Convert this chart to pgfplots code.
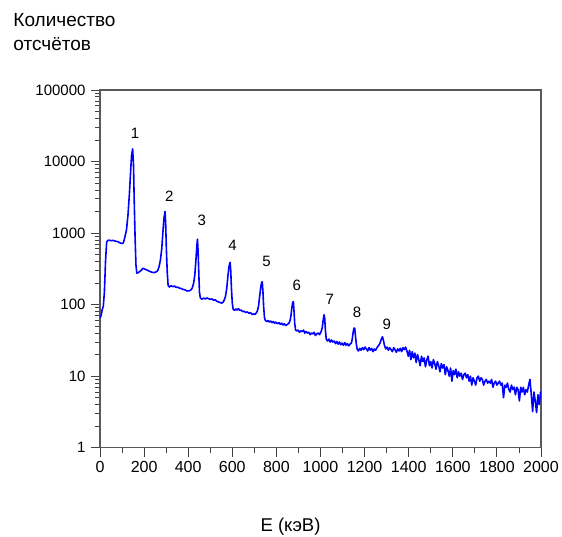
\documentclass[border=0pt]{standalone}
\usepackage{fontspec}
\setmainfont{Liberation Sans}
\usepackage{pgfplots}
\pgfplotsset{compat=1.18}
\usepackage{pgfplotstable}

% Gamma spectrum: energy (keV) vs counts
\pgfplotstableread{
E N
0 65
5 70
10 85
15 95
20 150
25 400
30 740
35 790
40 795
50 785
60 790
70 770
80 760
90 730
100 715
106 730
113 880
120 1100
127 1800
133 3400
138 6500
143 12000
148 15000
152 9000
155 3000
159 900
163 360
167 275
175 282
185 298
195 322
205 312
215 302
225 292
235 284
245 280
255 287
262 300
268 340
274 420
280 600
285 1000
290 1600
295 2000
298 1300
301 600
305 280
309 185
315 176
322 184
330 178
338 182
345 174
352 176
360 170
368 168
375 164
385 161
395 155
405 156
412 160
418 170
424 195
430 260
435 420
439 650
442 820
445 550
448 280
451 150
455 124
462 119
470 123
478 120
485 124
492 121
500 119
508 120
515 115
522 117
530 111
538 109
545 107
552 105
558 108
563 115
569 130
575 170
580 250
585 340
590 390
593 300
596 170
600 105
604 86
610 83
616 87
622 84
628 88
634 83
640 84
646 80
652 81
660 78
668 79
675 76
682 77
690 73
697 74
703 73
709 77
714 82
719 95
724 130
729 175
733 205
736 208
739 150
742 95
746 66
750 60
756 58
762 60
768 57
774 59
780 56
786 58
792 55
798 57
805 54
812 56
818 53
824 55
830 52
836 54
842 51
850 53
857 55
862 60
866 70
870 90
874 108
877 110
880 80
883 55
887 44
893 43
899 44
905 41
911 43
917 42
923 44
929 40
935 42
941 40
947 41
953 38
959 40
965 39
971 41
977 37
983 39
990 40
996 38
1003 42
1008 48
1012 60
1016 72
1019 65
1022 45
1026 33
1032 31
1038 33
1044 30
1050 32
1056 30
1062 31
1068 28.5
1074 30.5
1080 28
1086 30
1092 27.5
1098 29
1104 27
1110 29.5
1116 27
1122 28.5
1128 26.5
1134 28
1140 29
1144 33
1148 41
1152 47
1155 47
1158 38
1162 29
1166 24
1172 22.5
1178 24.5
1184 23
1190 25
1196 23.5
1202 25.5
1208 24
1214 22.5
1220 25
1226 23
1232 24.5
1238 22
1244 24
1250 23
1256 25
1264 27
1270 29
1276 33
1281 35.5
1285 32
1290 27
1296 24
1302 25.5
1308 23
1314 25
1320 23.5
1326 22
1332 25
1338 23.5
1344 21.5
1350 24
1356 22.5
1362 24.5
1368 22
1374 25
1380 23.5
1386 25.5
1392 22.5
1398 19
1404 23
1410 17
1416 22
1422 18
1428 21
1434 15.5
1440 20
1446 17
1452 14
1458 19
1464 16
1470 18
1476 13.5
1482 17
1488 19
1494 14
1500 16
1506 13
1512 17
1518 15
1524 12.5
1530 16
1536 14
1542 11.5
1548 15
1554 13
1560 14.5
1566 10.5
1572 13.5
1578 12
1584 10
1590 13
1596 8.5
1602 12
1608 10.5
1614 12.5
1620 9.5
1626 11.5
1632 10
1638 11
1644 9
1650 10.5
1656 11
1662 9.5
1668 10.5
1674 8.5
1680 10
1686 7.5
1692 9.5
1698 8.5
1704 7.5
1710 9.5
1716 10
1722 8.5
1728 9.5
1734 9
1740 7.5
1746 8.5
1752 9
1758 8
1764 8.5
1770 8
1776 9
1782 7
1788 8
1794 8.5
1800 7.5
1806 8
1812 8.5
1818 7.5
1824 8
1830 5
1836 7.5
1842 7
1848 8
1854 6.5
1860 6
1866 7.5
1872 6.5
1878 7
1884 5.5
1890 7
1896 6.5
1902 4.5
1908 7
1914 6
1920 7
1926 5.5
1932 6.5
1938 6
1944 7.5
1950 9
1956 5.5
1962 3.2
1968 6
1974 4.5
1980 3.1
1986 5.5
1992 4
1998 6
2000 5
}\spectrum

\begin{document}
\begin{tikzpicture}
\useasboundingbox (-100pt,-88.3pt) rectangle (462pt,447.7pt);
\begin{axis}[
  at={(0,0)}, anchor=south west,
  scale only axis,
  width=441pt, height=357.7pt,
  xmin=0, xmax=2000,
  ymode=log, ymin=1, ymax=100000,
  xtick={0,200,400,600,800,1000,1200,1400,1600,1800,2000},
  xticklabels={0,200,400,600,800,1000,1200,1400,1600,1800,2000},
  minor x tick num=1,
  ytick={1,10,100,1000,10000,100000},
  yticklabels={1,10,100,1000,10000,100000},
  xtick pos=left, ytick pos=left,
  tick align=outside,
  major tick length=9pt, minor tick length=5pt,
  tick style={black!75, line width=0.9pt},
  axis line style={black!65, line width=1.3pt},
  xticklabel style={font=\fontsize{16pt}{18pt}\selectfont, yshift=-1pt},
  yticklabel style={font=\fontsize{15pt}{18pt}\selectfont, xshift=-2pt},
  clip=true,
]
\addplot[blue, line width=1.6pt, line join=round] table[x=E, y=N] {\spectrum};

\begin{scope}[font=\fontsize{15pt}{18pt}\selectfont]
\node at (axis cs:158.5,24950) {1};
\node at (axis cs:314,3245) {2};
\node at (axis cs:462,1531) {3};
\node at (axis cs:601,668) {4};
\node at (axis cs:755,398) {5};
\node at (axis cs:893,184) {6};
\node at (axis cs:1042,119) {7};
\node at (axis cs:1166,77.5) {8};
\node at (axis cs:1301,53.2) {9};
\end{scope}
\end{axis}

% axis titles
\node[anchor=base west, font=\fontsize{19pt}{24pt}\selectfont, inner sep=0pt] at (-86.7pt,421pt) {Количество};
\node[anchor=base west, font=\fontsize{19pt}{24pt}\selectfont, inner sep=0pt] at (-86.7pt,397pt) {отсчётов};
\node[anchor=base, font=\fontsize{18.5pt}{22pt}\selectfont, inner sep=0pt] at (190.5pt,-83.3pt) {E (кэВ)};
\end{tikzpicture}
\end{document}
